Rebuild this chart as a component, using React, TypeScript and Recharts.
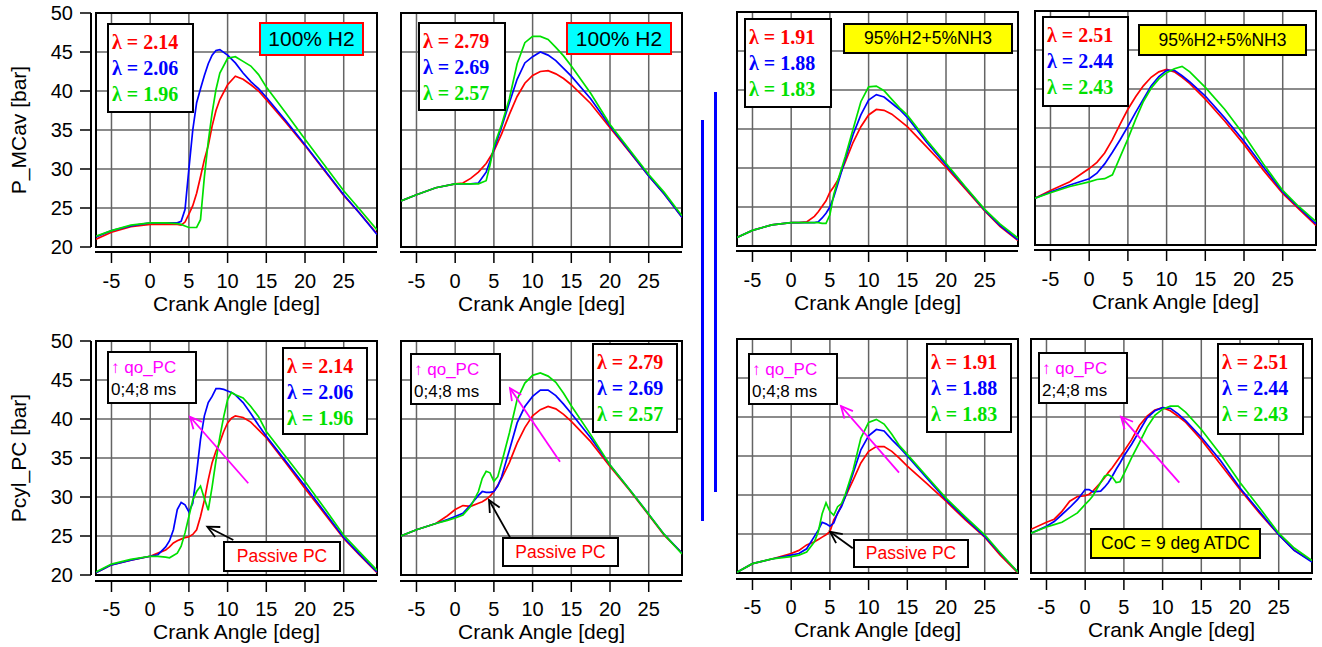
import React from 'react';
import { LineChart, Line, XAxis, YAxis, CartesianGrid, ReferenceLine, ReferenceArea, Legend } from 'recharts';

// ---------- axes ----------
const X_TICKS = [-5, 0, 5, 10, 15, 20, 25];
const Y_TICKS = [20, 25, 30, 35, 40, 45, 50];
const X_MIN = -7;
const X_MAX = 29.3;
const Y_MIN = 20;
const Y_MAX = 50;
const X_TITLE = 'Crank Angle [deg]';
const Y_TITLE_TOP = 'P_MCav [bar]';
const Y_TITLE_BOTTOM = 'Pcyl_PC [bar]';
const SERIES_ORDER = ['red', 'blue', 'green'];

// ---------- lambda labels ----------
const LAMBDA_A = ['2.14', '2.06', '1.96'];
const LAMBDA_B = ['2.79', '2.69', '2.57'];
const LAMBDA_C = ['1.91', '1.88', '1.83'];
const LAMBDA_D = ['2.51', '2.44', '2.43'];

// ---------- panel 1 : P_MCav, 100% H2 ----------
const p1Angle = [-7, -5, -2.5, 0, 2, 3.5, 4, 4.5, 5, 5.5, 6, 6.5, 7, 7.5, 8, 8.5, 9, 10, 11, 12, 13, 14, 15, 17.5, 20, 22.5, 25, 27, 29.3];
const p1Red = [21.0, 21.9, 22.6, 22.9, 22.9, 22.9, 22.8, 23.2, 24.2, 25.3, 26.9, 29.0, 31.2, 33.0, 35.5, 37.5, 38.9, 40.8, 41.9, 41.5, 40.8, 40.0, 38.9, 36.0, 33.0, 29.8, 26.6, 24.4, 21.7];
const p1Blue = [21.3, 22.1, 22.7, 23.1, 23.1, 23.1, 23.3, 24.8, 30.0, 35.0, 38.5, 40.3, 42.0, 43.5, 44.6, 45.2, 45.3, 44.6, 43.6, 42.3, 41.2, 40.3, 39.2, 36.2, 33.1, 29.9, 26.7, 24.4, 21.6];
const p1Green = [21.4, 22.1, 22.8, 23.1, 23.1, 23.0, 22.9, 22.7, 22.5, 22.5, 22.5, 23.5, 29.0, 33.5, 37.2, 40.2, 42.3, 44.2, 44.4, 43.8, 43.2, 42.1, 40.5, 37.2, 33.8, 30.5, 27.2, 24.9, 22.2];

// ---------- panel 2 : P_MCav, 100% H2 ----------
const p2Angle = [-7, -5, -2.5, 0, 1, 2, 3, 4, 4.5, 5, 6, 7, 8, 9, 10, 11, 12, 13, 14, 15, 17.5, 20, 22.5, 25, 27, 29.3];
const p2Red = [25.9, 26.7, 27.6, 28.1, 28.2, 28.8, 29.6, 30.7, 31.5, 32.3, 34.5, 37.0, 39.3, 41.0, 42.0, 42.5, 42.6, 42.2, 41.6, 40.8, 38.4, 35.3, 32.2, 29.1, 26.8, 23.8];
const p2Blue = [25.9, 26.7, 27.6, 28.1, 28.1, 28.1, 28.2, 29.6, 31.0, 32.5, 35.4, 38.5, 41.5, 43.6, 44.4, 45.0, 44.6, 43.9, 42.9, 41.9, 39.0, 35.5, 32.3, 29.1, 26.8, 23.8];
const p2Green = [25.9, 26.7, 27.6, 28.1, 28.1, 28.1, 28.1, 28.5, 30.5, 32.9, 35.7, 39.0, 43.5, 46.2, 47.0, 47.0, 46.6, 45.6, 44.5, 43.2, 39.7, 35.7, 32.5, 29.3, 27.0, 24.0];

// ---------- panel 3 : P_MCav, 95%H2+5%NH3 ----------
const p3Angle = [-7, -5, -2.5, 0, 1, 2, 3, 3.5, 4, 4.5, 5, 5.5, 6, 7, 8, 9, 10, 11, 12, 13, 14, 15, 17.5, 20, 22.5, 25, 27, 29.3];
const p3Red = [21.1, 22.0, 22.7, 23.0, 23.0, 23.1, 23.8, 24.4, 25.1, 25.8, 26.9, 27.6, 28.4, 30.8, 33.3, 35.3, 36.8, 37.5, 37.4, 36.9, 36.1, 35.3, 32.7, 30.1, 27.3, 24.5, 22.5, 20.7];
const p3Blue = [21.1, 22.0, 22.7, 23.0, 23.0, 23.0, 23.0, 23.1, 23.6, 24.2, 25.0, 26.3, 27.9, 31.2, 34.3, 36.8, 38.7, 39.4, 39.1, 38.3, 37.5, 36.5, 33.3, 30.4, 27.5, 24.6, 22.6, 20.8];
const p3Green = [21.1, 22.0, 22.7, 23.0, 23.0, 23.0, 23.0, 23.0, 22.9, 22.9, 24.0, 26.6, 28.3, 31.5, 35.0, 38.5, 40.4, 40.5, 39.9, 38.8, 37.7, 36.8, 33.6, 30.6, 27.6, 24.7, 22.8, 21.0];

// ---------- panel 4 : P_MCav, 95%H2+5%NH3 ----------
const p4Angle = [-7, -5, -2.5, 0, 1, 2, 3, 4, 5, 6, 7, 8, 9, 10, 11, 12, 13, 15, 17.5, 20, 22.5, 25, 27, 29.3];
const p4Red = [26.0, 27.0, 28.1, 29.8, 30.6, 31.8, 33.5, 35.5, 37.4, 39.0, 40.4, 41.5, 42.2, 42.5, 42.2, 41.5, 40.7, 38.7, 35.9, 32.9, 29.6, 26.6, 24.7, 22.5];
const p4Blue = [26.0, 26.8, 27.7, 28.5, 29.2, 30.4, 31.9, 33.5, 35.2, 37.0, 38.7, 40.4, 41.6, 42.4, 42.4, 41.7, 40.9, 39.1, 36.3, 33.3, 30.0, 26.8, 24.9, 22.7];
const p4Green = [26.0, 26.7, 27.5, 28.1, 28.4, 28.5, 29.0, 31.3, 33.6, 36.1, 38.4, 40.1, 41.3, 42.1, 42.6, 42.9, 42.2, 40.2, 37.4, 34.1, 30.4, 27.0, 25.0, 23.0];

// ---------- panel 5 : Pcyl_PC, 100% H2 ----------
const p5Angle = [-7, -5, -2.5, 0, 1, 2, 2.5, 3, 3.5, 4, 4.5, 5, 5.5, 6, 6.5, 7, 7.5, 8, 8.5, 9, 9.5, 10, 10.5, 11, 12, 13, 14, 15, 17.5, 20, 22.5, 25, 27, 29.3];
const p5Red = [20.3, 21.3, 21.9, 22.4, 22.8, 23.2, 23.6, 24.1, 24.4, 24.6, 24.8, 24.9, 25.2, 25.8, 27.5, 29.6, 32.2, 34.4, 35.9, 37.0, 38.4, 39.5, 40.1, 40.4, 40.2, 39.6, 38.6, 37.6, 34.4, 31.1, 27.9, 24.7, 22.6, 20.3];
const p5Blue = [20.3, 21.3, 21.9, 22.4, 22.6, 23.6, 24.4, 25.8, 28.4, 29.3, 29.0, 28.1, 29.2, 33.1, 37.4, 40.4, 42.1, 42.9, 43.9, 43.9, 43.8, 43.6, 43.4, 43.1, 42.1, 40.7, 39.2, 37.8, 34.6, 31.4, 28.1, 24.8, 22.7, 20.4];
const p5Green = [20.4, 21.4, 22.0, 22.4, 22.4, 22.3, 22.2, 22.5, 22.8, 23.7, 25.4, 27.5, 29.6, 30.7, 31.4, 29.8, 28.3, 31.3, 34.7, 37.7, 40.3, 42.5, 43.4, 43.1, 42.7, 41.6, 40.3, 38.4, 35.2, 32.0, 28.6, 25.1, 23.0, 20.6];

// ---------- panel 6 : Pcyl_PC, 100% H2 ----------
const p6Angle = [-7, -5, -2.5, -1, 0, 1, 2, 3, 3.5, 4, 4.5, 5, 5.5, 6, 7, 8, 9, 10, 11, 12, 13, 14, 15, 17.5, 20, 22.5, 25, 27, 29.3];
const p6Red = [25.0, 25.8, 26.6, 27.6, 28.4, 28.9, 28.8, 29.2, 29.4, 29.7, 30.1, 30.7, 31.5, 32.4, 34.4, 36.9, 38.9, 40.4, 41.2, 41.6, 41.3, 40.6, 39.7, 37.1, 33.9, 30.9, 27.7, 25.1, 22.8];
const p6Blue = [25.0, 25.8, 26.6, 27.1, 27.5, 27.9, 29.0, 30.2, 30.7, 30.6, 30.6, 30.7, 31.4, 32.6, 36.0, 39.5, 41.6, 42.9, 43.7, 43.7, 43.0, 41.9, 40.7, 37.6, 34.1, 31.0, 27.8, 25.2, 22.8];
const p6Green = [25.0, 25.8, 26.6, 27.0, 27.3, 27.7, 28.8, 30.7, 32.4, 33.3, 33.1, 32.0, 32.6, 34.4, 38.2, 42.5, 44.6, 45.6, 45.9, 45.5, 44.7, 43.3, 41.7, 38.0, 34.1, 31.0, 27.8, 25.2, 22.7];

// ---------- panel 7 : Pcyl_PC, 95%H2+5%NH3 ----------
const p7Angle = [-7, -5, -2.5, 0, 1, 2, 3, 3.5, 4, 4.5, 5, 5.5, 6, 6.5, 7, 8, 9, 10, 11, 12, 13, 14, 15, 17.5, 20, 22.5, 25, 27, 29.3];
const p7Red = [20.1, 21.2, 21.8, 22.5, 22.9, 23.6, 24.0, 24.3, 24.6, 24.9, 25.3, 26.8, 27.6, 28.7, 29.8, 31.9, 34.1, 35.6, 36.2, 36.2, 35.6, 34.7, 33.7, 31.5, 29.2, 26.8, 24.6, 22.3, 20.0];
const p7Blue = [20.1, 21.2, 21.8, 22.3, 22.5, 23.1, 24.7, 25.5, 26.5, 26.3, 26.0, 26.4, 27.7, 28.5, 29.8, 32.8, 35.8, 37.6, 38.4, 38.2, 37.1, 36.1, 35.0, 32.2, 29.4, 27.0, 24.7, 22.5, 20.1];
const p7Green = [20.1, 21.2, 21.8, 22.1, 22.3, 22.7, 24.0, 25.3, 27.6, 29.0, 27.9, 27.4, 28.5, 28.9, 30.1, 33.2, 37.3, 39.3, 39.7, 39.1, 37.8, 36.3, 35.2, 32.4, 29.6, 27.2, 24.9, 22.6, 20.1];

// ---------- panel 8 : Pcyl_PC, 95%H2+5%NH3 ----------
const p8Angle = [-7, -5, -4, -3, -2, -1, 0, 0.5, 1, 2, 2.5, 3, 3.5, 4, 4.5, 5, 6, 7, 8, 9, 10, 11, 12, 13, 15, 17.5, 20, 22.5, 25, 27, 29.3];
const p8Red = [25.6, 26.5, 26.9, 27.9, 29.2, 29.8, 29.9, 30.1, 30.5, 31.6, 32.2, 32.9, 33.5, 34.2, 34.9, 35.6, 37.1, 38.9, 40.1, 40.9, 41.2, 40.8, 40.1, 39.3, 37.1, 33.9, 30.7, 27.7, 24.9, 22.9, 21.5];
const p8Blue = [25.1, 26.0, 26.6, 27.5, 28.4, 29.4, 30.7, 30.7, 30.4, 30.5, 31.0, 31.6, 32.4, 33.3, 34.1, 35.0, 36.5, 38.2, 39.9, 40.8, 41.2, 41.1, 40.4, 39.5, 37.4, 34.4, 30.9, 27.9, 24.9, 22.9, 21.4];
const p8Green = [25.1, 25.9, 26.2, 26.5, 27.1, 27.7, 28.8, 29.3, 29.9, 31.6, 32.4, 32.6, 32.3, 31.6, 31.7, 32.7, 34.8, 36.7, 38.7, 40.2, 41.0, 41.4, 41.4, 40.6, 38.4, 35.2, 31.6, 28.4, 25.1, 23.2, 21.6];

// ---------- styles ----------
const SANS = '"Liberation Sans", Arial, sans-serif';
const SERIF = '"Liberation Serif", "Times New Roman", serif';
const RED = '#ff0000';
const BLUE = '#0000ff';
const GREEN = '#00e000';
const MAGENTA = '#ff00ff';
const GRID = '#646464';
const PLOT_W = 281;
const PLOT_H = 234;
const X_AXIS_H = 70;
const RIGHT_M = 4;

// annotation arrows (data coordinates: [angle, bar])
const P5_ARROWS = [
  { from: [12.67, 31.76], to: [5.14, 40.29], color: MAGENTA },
  { from: [10.74, 24.49], to: [7.38, 26.19], color: '#000' },
];
const P6_ARROWS = [
  { from: [13.54, 34.53], to: [7.08, 43.94], color: MAGENTA },
  { from: [7.08, 24.83], to: [4.37, 29.61], color: '#000' },
];
const P7_ARROWS = [
  { from: [13.93, 32.86], to: [6.43, 41.41], color: MAGENTA },
  { from: [7.95, 23.17], to: [5.01, 25.29], color: '#000' },
];
const P8_ARROWS = [
  { from: [12.16, 31.58], to: [4.63, 40.04], color: MAGENTA },
];

const PANELS = [
  { id: 'p1', cx: 0, cy: 0, L: 96, T: 13, gap: 5, yLabels: true, angle: p1Angle, red: p1Red, blue: p1Blue, green: p1Green, lambdas: LAMBDA_A, legend: { x: 107, y: 23, w: 87, h: 90 }, arrows: [] },
  { id: 'p2', cx: 385, cy: 0, L: 401, T: 13, gap: 5, yLabels: false, angle: p2Angle, red: p2Red, blue: p2Blue, green: p2Green, lambdas: LAMBDA_B, legend: { x: 418, y: 22, w: 88, h: 89 }, arrows: [] },
  { id: 'p3', cx: 721, cy: 0, L: 737, T: 12, gap: 5, yLabels: false, angle: p3Angle, red: p3Red, blue: p3Blue, green: p3Green, lambdas: LAMBDA_C, legend: { x: 744, y: 18, w: 88, h: 90 }, arrows: [] },
  { id: 'p4', cx: 1019, cy: 0, L: 1035, T: 11, gap: 5, yLabels: false, angle: p4Angle, red: p4Red, blue: p4Blue, green: p4Green, lambdas: LAMBDA_D, legend: { x: 1042, y: 16, w: 87, h: 91 }, arrows: [] },
  { id: 'p5', cx: 0, cy: 320, L: 96, T: 341, gap: 6, yLabels: true, angle: p5Angle, red: p5Red, blue: p5Blue, green: p5Green, lambdas: LAMBDA_A, legend: { x: 282, y: 347, w: 86, h: 88 }, arrows: P5_ARROWS },
  { id: 'p6', cx: 385, cy: 320, L: 401, T: 341, gap: 6, yLabels: false, angle: p6Angle, red: p6Red, blue: p6Blue, green: p6Green, lambdas: LAMBDA_B, legend: { x: 592, y: 343, w: 86, h: 90 }, arrows: P6_ARROWS },
  { id: 'p7', cx: 721, cy: 320, L: 737, T: 339, gap: 6, yLabels: false, angle: p7Angle, red: p7Red, blue: p7Blue, green: p7Green, lambdas: LAMBDA_C, legend: { x: 926, y: 343, w: 86, h: 90 }, arrows: P7_ARROWS },
  { id: 'p8', cx: 1015, cy: 320, L: 1031, T: 339, gap: 6, yLabels: false, angle: p8Angle, red: p8Red, blue: p8Blue, green: p8Green, lambdas: LAMBDA_D, legend: { x: 1217, y: 343, w: 87, h: 92 }, arrows: P8_ARROWS },
];

const Y_TITLES = [
  { text: Y_TITLE_TOP, cx: 19, cy: 130 },
  { text: Y_TITLE_BOTTOM, cx: 19, cy: 458 },
];

const FUEL_BOXES = [
  { text: '100% H2', x: 259, y: 22, w: 105, h: 34, bg: '#00ffff', border: RED, fontSize: 21 },
  { text: '100% H2', x: 566, y: 22, w: 106, h: 33, bg: '#00ffff', border: RED, fontSize: 21 },
  { text: '95%H2+5%NH3', x: 843, y: 23, w: 170, h: 31, bg: '#ffff00', border: '#000', fontSize: 17.5 },
  { text: '95%H2+5%NH3', x: 1138, y: 24, w: 169, h: 32, bg: '#ffff00', border: '#000', fontSize: 17.5 },
  { text: 'CoC = 9 deg ATDC', x: 1090, y: 528, w: 171, h: 31, bg: '#ffff00', border: '#000', fontSize: 17.5 },
];
const QO_BOXES = [
  { x: 107, y: 351, w: 90, h: 53, ms: '0;4;8 ms' },
  { x: 410, y: 353, w: 91, h: 52, ms: '0;4;8 ms' },
  { x: 748, y: 353, w: 90, h: 52, ms: '0;4;8 ms' },
  { x: 1038, y: 352, w: 90, h: 52, ms: '2;4;8 ms' },
];
const PASSIVE_BOXES = [
  { x: 223, y: 541, w: 118, h: 31 },
  { x: 502, y: 537, w: 117, h: 30 },
  { x: 853, y: 539, w: 116, h: 29 },
];

// ---------- custom renderers ----------
const makeXTick = (gap: number) => (props: any) => {
  const { x, y, payload } = props;
  return (
    <g>
      <line x1={x} x2={x} y1={y + gap} y2={y + gap + 11} stroke="#000" strokeWidth={1.5} />
      <text x={x} y={y + 41} textAnchor="middle" fontSize={20} fontFamily={SANS} fill="#000">
        {payload.value}
      </text>
    </g>
  );
};

const YTick = (props: any) => {
  const { x, y, payload } = props;
  return (
    <g>
      <line x1={x - 16} x2={x - 5} y1={y} y2={y} stroke="#000" strokeWidth={1.5} />
      <text x={x - 23} y={y} dy="0.35em" textAnchor="end" fontSize={20} fontFamily={SANS} fill="#000">
        {payload.value}
      </text>
    </g>
  );
};

const NoTick = () => <g />;

const xAxisLineShape = (gap: number) => (p: any) => (
  <line x1={p.x1 - 1} y1={p.y1 + gap} x2={p.x2} y2={p.y2 + gap} stroke="#000" strokeWidth={2} />
);
const yAxisLineShape = (p: any) => (
  <line x1={p.x1 - 5} y1={p.y1} x2={p.x2 - 5} y2={p.y2} stroke="#000" strokeWidth={2} />
);

const arrowShape = (color: string) => (p: any) => {
  const { x1, y1, x2, y2 } = p;
  const dx = x2 - x1;
  const dy = y2 - y1;
  const len = Math.hypot(dx, dy) || 1;
  const bx = -dx / len;
  const by = -dy / len;
  const hl = 13;
  const a = 0.45;
  const c = Math.cos(a);
  const s = Math.sin(a);
  const h1x = x2 + hl * (bx * c - by * s);
  const h1y = y2 + hl * (bx * s + by * c);
  const h2x = x2 + hl * (bx * c + by * s);
  const h2y = y2 + hl * (-bx * s + by * c);
  return (
    <g>
      <line x1={x1} y1={y1} x2={x2} y2={y2} stroke={color} strokeWidth={1.8} />
      <polyline points={`${h1x},${h1y} ${x2},${y2} ${h2x},${h2y}`} fill="none" stroke={color} strokeWidth={1.8} />
    </g>
  );
};

const LambdaBox = ({ payload, w, h }: any) => {
  const items = [...(payload || [])].sort(
    (a: any, b: any) => SERIES_ORDER.indexOf(a.dataKey) - SERIES_ORDER.indexOf(b.dataKey)
  );
  return (
    <div
      style={{
        width: w,
        height: h,
        boxSizing: 'border-box',
        border: '2px solid #000',
        background: '#fff',
        padding: '3.5px 0 0 3px',
        fontFamily: SERIF,
        fontWeight: 'bold',
        fontSize: 20,
        lineHeight: '26px',
        textAlign: 'left',
        whiteSpace: 'nowrap',
      }}
    >
      {items.map((item: any) => (
        <div key={String(item.dataKey)} style={{ color: item.color }}>
          {item.value}
        </div>
      ))}
    </div>
  );
};

const Panel = ({ cfg }: any) => {
  const data = cfg.angle.map((a: number, i: number) => ({
    angle: a,
    red: cfg.red[i],
    blue: cfg.blue[i],
    green: cfg.green[i],
  }));
  const yW = cfg.L - cfg.cx;
  const mTop = cfg.T - cfg.cy;
  const width = yW + PLOT_W + RIGHT_M;
  const height = mTop + PLOT_H + X_AXIS_H;
  return (
    <div style={{ position: 'absolute', left: cfg.cx, top: cfg.cy }}>
      <LineChart width={width} height={height} data={data} margin={{ top: mTop, right: RIGHT_M, bottom: 0, left: 0 }}>
        <CartesianGrid stroke={GRID} strokeWidth={1.5} />
        <XAxis
          dataKey="angle"
          type="number"
          domain={[X_MIN, X_MAX]}
          ticks={X_TICKS}
          allowDataOverflow
          interval={0}
          height={X_AXIS_H}
          axisLine={false}
          tickLine={false}
          tickSize={0}
          tickMargin={0}
          tick={makeXTick(cfg.gap)}
          label={{
            value: X_TITLE,
            position: 'insideTop',
            offset: 49,
            style: { fontSize: 21, fontFamily: SANS, fill: '#000' },
          }}
        />
        <YAxis
          type="number"
          domain={[Y_MIN, Y_MAX]}
          ticks={Y_TICKS}
          allowDataOverflow
          interval={0}
          width={yW}
          axisLine={false}
          tickLine={false}
          tickSize={0}
          tickMargin={0}
          tick={cfg.yLabels ? YTick : NoTick}
        />
        <ReferenceArea x1={X_MIN} x2={X_MAX} y1={Y_MIN} y2={Y_MAX} fill="none" fillOpacity={0} stroke="#000" strokeWidth={2} ifOverflow="visible" />
        <ReferenceLine
          segment={[{ x: X_MIN, y: Y_MIN }, { x: X_MAX, y: Y_MIN }]}
          ifOverflow="visible"
          shape={xAxisLineShape(cfg.gap)}
        />
        {cfg.yLabels ? (
          <ReferenceLine
            segment={[{ x: X_MIN, y: Y_MIN }, { x: X_MIN, y: Y_MAX }]}
            ifOverflow="visible"
            shape={yAxisLineShape}
          />
        ) : null}
        <Line dataKey="red" name={`λ = ${cfg.lambdas[0]}`} stroke={RED} strokeWidth={1.7} dot={false} isAnimationActive={false} />
        <Line dataKey="blue" name={`λ = ${cfg.lambdas[1]}`} stroke={BLUE} strokeWidth={1.7} dot={false} isAnimationActive={false} />
        <Line dataKey="green" name={`λ = ${cfg.lambdas[2]}`} stroke={GREEN} strokeWidth={1.7} dot={false} isAnimationActive={false} />
        {cfg.arrows.map((ar: any, i: number) => (
          <ReferenceLine
            key={`arrow-${i}`}
            segment={[{ x: ar.from[0], y: ar.from[1] }, { x: ar.to[0], y: ar.to[1] }]}
            ifOverflow="visible"
            shape={arrowShape(ar.color)}
          />
        ))}
        <Legend
          layout="vertical"
          align="center"
          verticalAlign="middle"
          wrapperStyle={{
            left: cfg.legend.x - cfg.cx,
            top: cfg.legend.y - cfg.cy,
            width: cfg.legend.w,
            height: cfg.legend.h,
          }}
          content={(props: any) => <LambdaBox payload={props.payload} w={cfg.legend.w} h={cfg.legend.h} />}
        />
      </LineChart>
    </div>
  );
};

const boxBase = {
  position: 'absolute' as const,
  boxSizing: 'border-box' as const,
  border: '2px solid #000',
  background: '#fff',
};

export default function App() {
  return (
    <div style={{ position: 'absolute', left: 0, top: 0, width: 1322, height: 647, background: '#fff', overflow: 'hidden' }}>
      {PANELS.map((p) => (
        <Panel key={p.id} cfg={p} />
      ))}

      {Y_TITLES.map((t, i) => (
        <div
          key={`yt-${i}`}
          style={{
            position: 'absolute',
            left: t.cx - 100,
            top: t.cy - 12,
            width: 200,
            height: 24,
            lineHeight: '24px',
            textAlign: 'center',
            fontFamily: SANS,
            fontSize: 21,
            color: '#000',
            whiteSpace: 'nowrap',
            transform: 'rotate(-90deg)',
            transformOrigin: '50% 50%',
            zIndex: 5,
          }}
        >
          {t.text}
        </div>
      ))}

      <div style={{ position: 'absolute', left: 701, top: 120, width: 3, height: 401, background: '#0000ff' }} />
      <div style={{ position: 'absolute', left: 714, top: 92, width: 3, height: 400, background: '#0000ff' }} />

      {FUEL_BOXES.map((b, i) => (
        <div
          key={`fuel-${i}`}
          style={{
            ...boxBase,
            left: b.x,
            top: b.y,
            width: b.w,
            height: b.h,
            background: b.bg,
            border: `2px solid ${b.border}`,
            display: 'flex',
            alignItems: 'center',
            justifyContent: 'center',
            fontFamily: SANS,
            fontSize: b.fontSize,
            color: '#000',
            whiteSpace: 'nowrap',
          }}
        >
          {b.text}
        </div>
      ))}

      {QO_BOXES.map((b, i) => (
        <div
          key={`qo-${i}`}
          style={{
            ...boxBase,
            left: b.x,
            top: b.y,
            width: b.w,
            height: b.h,
            padding: '4px 0 0 2px',
            fontFamily: SANS,
            fontSize: 17,
            lineHeight: '22.4px',
            whiteSpace: 'nowrap',
          }}
        >
          <div style={{ color: MAGENTA }}>↑ qo_PC</div>
          <div style={{ color: '#000' }}>{b.ms}</div>
        </div>
      ))}

      {PASSIVE_BOXES.map((b, i) => (
        <div
          key={`pas-${i}`}
          style={{
            ...boxBase,
            left: b.x,
            top: b.y,
            width: b.w,
            height: b.h,
            display: 'flex',
            alignItems: 'center',
            justifyContent: 'center',
            fontFamily: SANS,
            fontSize: 17.5,
            color: RED,
            whiteSpace: 'nowrap',
          }}
        >
          Passive PC
        </div>
      ))}
    </div>
  );
}
